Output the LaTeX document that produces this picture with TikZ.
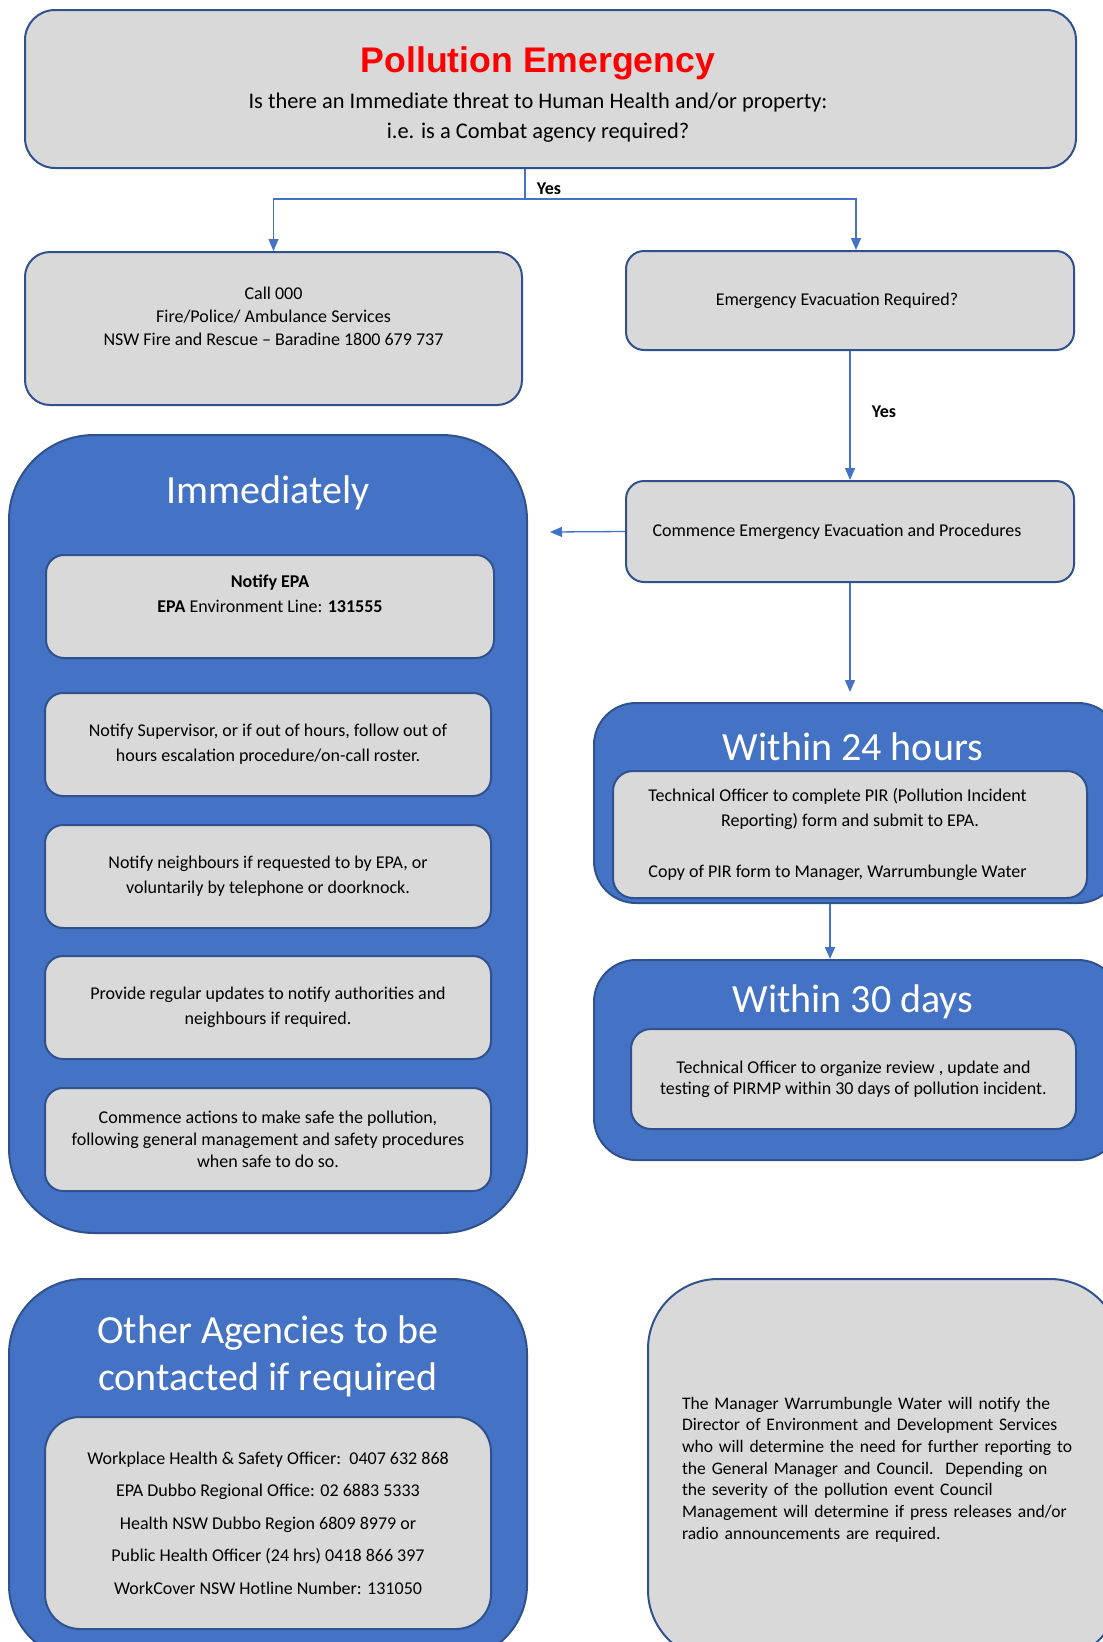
\documentclass[tikz,border=0pt]{standalone}
\usepackage{fontspec}
\setmainfont{Carlito}
\newfontfamily\arialfont{Liberation Sans}
\usetikzlibrary{arrows.meta}

\definecolor{boxblue}{HTML}{4472C4}
\definecolor{edgeblue}{HTML}{2F528F}
\definecolor{boxgray}{HTML}{D9D9D9}
\definecolor{titlered}{HTML}{FF0000}

\tikzset{
	graybox/.style={draw=edgeblue, line width=2pt, fill=boxgray, rounded corners=18pt, align=center, inner sep=0pt, font=\fontsize{18}{25}\selectfont},
	bluebox/.style={draw=edgeblue, line width=2pt, fill=boxblue, inner sep=0pt},
	bigtitle/.style={text=white, align=center, font=\fontsize{40}{47}\selectfont},
	conn/.style={draw=boxblue, line width=1.3pt, -{Triangle[length=12pt,width=10pt]}},
	yeslabel/.style={font=\bfseries\fontsize{18}{20}\selectfont}
}

\begin{document}
\begin{tikzpicture}[x=1pt,y=-1pt]
	\useasboundingbox (0,0) rectangle (1103,1642);
	\clip (0,0) rectangle (1103,1642);
	% question at the top
	\node[graybox, rounded corners=30pt, minimum width=1051pt, minimum height=158pt, text height=102pt, font=\fontsize{22.4}{30}\selectfont] (question) at (550.5,89)
		{{\arialfont\bfseries\fontsize{35.6}{40}\selectfont\textcolor{titlered}{Pollution Emergency}}\hspace*{25pt}\mbox{}\\[6pt]
		 Is there an Immediate threat to Human Health and/or property:\hspace*{25pt}\mbox{}\\
		 i.e. is a Combat agency required?\hspace*{25pt}\mbox{}};
	% first answers
	\node[graybox, rounded corners=25pt, minimum width=497pt, minimum height=153pt, text depth=24pt, font=\fontsize{18}{23}\selectfont] (call) at (273.5,328.5)
		{Call 000\\ Fire/Police/ Ambulance Services\\ NSW Fire and Rescue -- Baradine 1800 679 737};
	\node[graybox, minimum width=448pt, minimum height=99pt] (evac) at (850,300.5) {Emergency Evacuation Required?\hspace*{26pt}};
	\node[graybox, minimum width=448pt, minimum height=101pt] (commence) at (850,531.5) {Commence Emergency Evacuation and Procedures\hspace*{26pt}};
	% immediately
	\node[bluebox, rounded corners=85pt, minimum width=518pt, minimum height=798pt] (immediately) at (268,834) {};
	\node[bigtitle] (immtitle) at (268,493) {Immediately};
	\node[graybox, minimum width=448pt, minimum height=103pt, text depth=26pt] (notifyepa) at (270,606.5)
		{\textbf{Notify EPA}\\ \textbf{EPA} Environment Line: \textbf{131555}};
	\node[graybox, minimum width=446pt, minimum height=103pt] (supervisor) at (268,744.5)
		{Notify Supervisor, or if out of hours, follow out of\\ hours escalation procedure/on-call roster.};
	\node[graybox, minimum width=446pt, minimum height=103pt] (neighbours) at (268,876.5)
		{Notify neighbours if requested to by EPA, or\\ voluntarily by telephone or doorknock.};
	\node[graybox, minimum width=446pt, minimum height=103pt] (updates) at (268,1007.5)
		{Provide regular updates to notify authorities and\\ neighbours if required.};
	\node[graybox, minimum width=446pt, minimum height=103pt, font=\fontsize{18}{22}\selectfont] (actions) at (268,1139.5)
		{Commence actions to make safe the pollution,\\ following general management and safety procedures\\ when safe to do so.};
	% within 24 hours
	\node[bluebox, rounded corners=42pt, minimum width=526pt, minimum height=200pt] (dayone) at (857,803) {};
	\node[bigtitle] (daytitle) at (853,747) {Within 24 hours};
	\node[graybox, rounded corners=20pt, minimum width=474pt, minimum height=127pt] (pir) at (850,834.5)
		{Technical Officer to complete PIR (Pollution Incident\hspace*{25pt}\\ Reporting) form and submit to EPA.\\[26pt] Copy of PIR form to Manager, Warrumbungle Water\hspace*{25pt}};
	% within 30 days
	\node[bluebox, rounded corners=42pt, minimum width=526pt, minimum height=200pt] (daythirty) at (857,1060) {};
	\node[bigtitle] (thirtytitle) at (853,1002) {Within 30 days};
	\node[graybox, rounded corners=20pt, minimum width=445pt, minimum height=100pt, font=\fontsize{18}{21}\selectfont] (review) at (853.5,1079)
		{Technical Officer to organize review , update and\\ testing of PIRMP within 30 days of pollution incident.};
	% other agencies
	\node[bluebox, rounded corners=75pt, minimum width=518pt, minimum height=381pt] (agencies) at (268,1469.5) {};
	\node[bigtitle] (agetitle) at (268,1356) {Other Agencies to be\\ contacted if required};
	\node[graybox, rounded corners=35pt, minimum width=446pt, minimum height=212pt, font=\fontsize{18}{32.5}\selectfont] (contacts) at (268,1523)
		{Workplace Health \& Safety Officer:\ \ 0407 632 868\\ EPA Dubbo Regional Office: 02 6883 5333\\ Health NSW Dubbo Region 6809 8979 or\\ Public Health Officer (24 hrs) 0418 866 397\\ WorkCover NSW Hotline Number: 131050};
	% manager
	\node[graybox, rounded corners=70pt, minimum width=472pt, minimum height=381pt, align=left, text width=404pt, font=\fontsize{17.6}{21.7}\selectfont] (manager) at (884,1469.5)
		{The Manager Warrumbungle Water will notify the\\ Director of Environment and Development Services\\ who will determine the need for further reporting to\\ the General Manager and Council.\ \ Depending on\\ the severity of the pollution event Council\\ Management will determine if press releases and/or\\ radio announcements are required.};
	% connectors
	\coordinate (split) at (525,199);
	\coordinate (leftend) at (550,532);
	\draw[boxblue, line width=1.3pt] (question.south -| split) -- (split);
	\draw[conn] (split) -| (call.north);
	\draw[conn] (split) -| ([xshift=6pt]evac.north);
	\draw[conn] (evac.south) -- (commence.north);
	\draw[conn] (commence.west) -- (leftend);
	\draw[conn, shorten >=10pt] (commence.south) -- (commence.south |- dayone.north);
	\draw[conn] ([xshift=-27pt]dayone.south) -- ([xshift=-27pt]daythirty.north);
	\node[yeslabel] (yesone) at (549,189) {Yes};
	\node[yeslabel] (yestwo) at (884,412) {Yes};
\end{tikzpicture}
\end{document}
